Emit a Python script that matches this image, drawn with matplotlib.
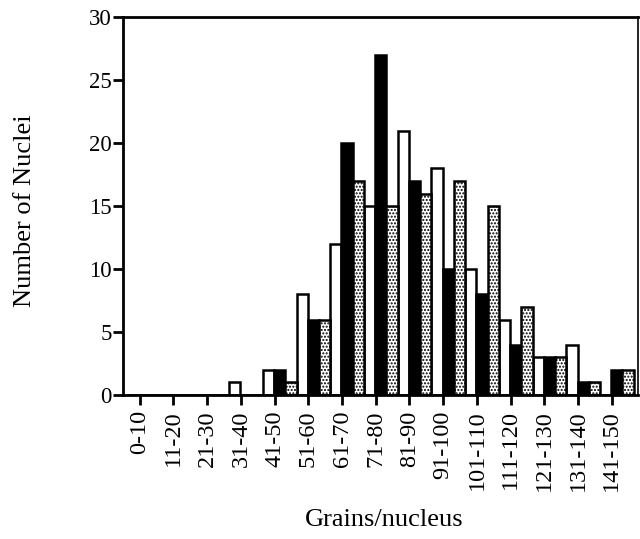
import matplotlib
matplotlib.use("Agg")
import matplotlib.pyplot as plt
import numpy as np

categories = ["0-10", "11-20", "21-30", "31-40", "41-50", "51-60", "61-70", "71-80",
              "81-90", "91-100", "101-110", "111-120", "121-130", "131-140", "141-150"]
open_vals = [0, 0, 0, 1, 2, 8, 12, 15, 21, 18, 10, 6, 3, 4, 0]
black_vals = [0, 0, 0, 0, 2, 6, 20, 27, 17, 10, 8, 4, 3, 1, 2]
dotted_vals = [0, 0, 0, 0, 1, 6, 17, 15, 16, 17, 15, 7, 3, 1, 2]
y_ticks = [0, 5, 10, 15, 20, 25, 30]

plt.rcParams['font.family'] = ['Liberation Serif', 'DejaVu Serif']
plt.rcParams['hatch.linewidth'] = 1.0

fig = plt.figure(figsize=(6.4, 5.39), dpi=100)
ax = fig.add_axes([0.192, 0.267, 0.805, 0.701])

x = np.arange(len(categories))
w = 1 / 3
off = 0.15
lw = 1.8
ax.bar(x + off - w, open_vals, w, color='white', edgecolor='black', linewidth=lw, zorder=2)
ax.bar(x + off, black_vals, w, color='black', edgecolor='black', linewidth=lw, zorder=2)
ax.bar(x + off + w, dotted_vals, w, color='white', edgecolor='black', linewidth=lw,
       hatch='.....', zorder=2)

ax.set_xlim(-0.5, 14.78)
ax.set_ylim(0, 30)
ax.set_yticks(y_ticks)
ax.set_xticks(x)
ax.set_xticklabels(categories, rotation=90, fontsize=17.5)
ax.tick_params(axis='y', labelsize=16.5, direction='out', length=7, width=2, pad=1)
ax.tick_params(axis='x', direction='out', length=7, width=2, pad=4)
for s in ax.spines.values():
    s.set_linewidth(2)
ax.spines['right'].set_linewidth(1.2)

fig.text(0.039, 0.61, "Number of Nuclei", fontsize=19, rotation=90, ha='center', va='center')
fig.text(0.601, 0.035, "Grains/nucleus", fontsize=19, ha='center', va='center')

fig.savefig("out.png", dpi=100)
